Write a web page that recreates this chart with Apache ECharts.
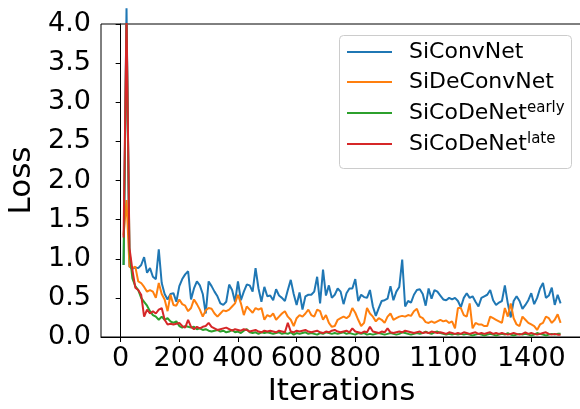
<!DOCTYPE html>
<html>
<head>
<meta charset="utf-8">
<script src="https://cdn.jsdelivr.net/npm/echarts@6/dist/echarts.min.js"></script>
<style>
html,body{margin:0;padding:0;background:#fff;}
#chart{width:580px;height:409px;}
</style>
</head>
<body>
<div id="chart"></div>
<script>
// Iterations: one logged point every 10 iterations, starting at 10
const iterStart = 10;
const iterStep = 10;

const seriesNames = ['SiConvNet', 'SiDeConvNet', 'SiCoDeNet|early', 'SiCoDeNet|late'];
const xTickValues = [0, 200, 400, 600, 800, 1100, 1400];
const yTickValues = [0, 0.5, 1, 1.5, 2, 2.5, 3, 3.5, 4];

const siConvNet = [
0.92,4.2,0.90,0.87,0.89,0.88,0.92,1.02,0.82,0.88,
0.77,0.74,1.12,0.69,0.55,0.48,0.55,0.56,0.45,0.65,
0.74,0.80,0.84,0.48,0.62,0.71,0.66,0.55,0.30,0.71,
0.65,0.58,0.52,0.43,0.41,0.45,0.67,0.60,0.45,0.71,
0.47,0.58,0.67,0.66,0.58,0.88,0.62,0.45,0.64,0.52,
0.53,0.47,0.61,0.53,0.50,0.46,0.60,0.73,0.55,0.41,
0.57,0.35,0.52,0.54,0.54,0.58,0.77,0.43,0.86,0.53,
0.66,0.50,0.54,0.62,0.58,0.42,0.56,0.62,0.62,0.74,
0.46,0.54,0.51,0.50,0.60,0.39,0.27,0.37,0.46,0.47,
0.49,0.65,0.47,0.58,0.64,0.99,0.39,0.46,0.44,0.54,
0.60,0.61,0.55,0.40,0.62,0.49,0.60,0.58,0.53,0.48,
0.47,0.50,0.48,0.50,0.46,0.38,0.50,0.56,0.50,0.52,
0.45,0.39,0.50,0.52,0.54,0.60,0.47,0.41,0.44,0.46,
0.66,0.43,0.25,0.46,0.52,0.46,0.36,0.41,0.47,0.56,
0.42,0.50,0.62,0.69,0.50,0.53,0.63,0.41,0.54,0.43
];

const siDeConvNet = [
1.30,1.75,0.90,0.88,0.90,0.71,0.69,0.64,0.58,0.60,
0.58,0.50,0.69,0.55,0.48,0.33,0.54,0.41,0.40,0.48,
0.42,0.40,0.33,0.37,0.48,0.42,0.35,0.26,0.34,0.37,
0.36,0.30,0.26,0.30,0.34,0.33,0.35,0.39,0.43,0.54,
0.43,0.28,0.39,0.35,0.31,0.37,0.35,0.37,0.22,0.28,
0.26,0.30,0.22,0.26,0.30,0.33,0.26,0.22,0.14,0.24,
0.28,0.26,0.30,0.35,0.28,0.26,0.35,0.33,0.22,0.28,
0.18,0.13,0.14,0.22,0.24,0.26,0.24,0.27,0.37,0.31,
0.22,0.14,0.18,0.37,0.30,0.26,0.20,0.24,0.22,0.18,
0.26,0.30,0.22,0.24,0.26,0.27,0.26,0.28,0.27,0.33,
0.36,0.26,0.24,0.19,0.18,0.20,0.18,0.20,0.22,0.20,
0.21,0.18,0.20,0.11,0.37,0.37,0.28,0.26,0.43,0.11,
0.18,0.16,0.16,0.14,0.14,0.26,0.24,0.22,0.20,0.18,
0.37,0.26,0.43,0.24,0.16,0.14,0.26,0.22,0.18,0.16,
0.14,0.09,0.16,0.18,0.26,0.24,0.18,0.22,0.29,0.18
];

const siCoDeNetEarly = [
0.92,4.05,1.10,0.75,0.65,0.60,0.50,0.45,0.40,0.33,
0.28,0.26,0.22,0.26,0.22,0.24,0.20,0.18,0.20,0.14,
0.12,0.14,0.13,0.12,0.13,0.10,0.11,0.09,0.10,0.08,
0.07,0.08,0.09,0.07,0.08,0.06,0.07,0.09,0.06,0.07,
0.05,0.08,0.10,0.06,0.05,0.06,0.04,0.06,0.05,0.06,
0.05,0.04,0.05,0.06,0.04,0.05,0.04,0.06,0.03,0.05,
0.04,0.05,0.06,0.04,0.05,0.04,0.03,0.05,0.04,0.06,
0.05,0.04,0.05,0.04,0.05,0.06,0.04,0.05,0.04,0.03,
0.05,0.04,0.05,0.03,0.04,0.03,0.04,0.05,0.04,0.03,
0.04,0.05,0.04,0.03,0.04,0.06,0.05,0.04,0.03,0.04,
0.05,0.04,0.05,0.07,0.05,0.04,0.06,0.07,0.05,0.04,
0.03,0.04,0.03,0.04,0.03,0.04,0.03,0.04,0.03,0.02,
0.03,0.04,0.03,0.02,0.03,0.04,0.03,0.02,0.03,0.04,
0.03,0.05,0.03,0.02,0.03,0.04,0.03,0.04,0.03,0.02,
0.03,0.05,0.04,0.03,0.02,0.03,0.04,0.03,0.04,0.04
];

const siCoDeNetLate = [
1.27,4.1,1.14,0.86,0.63,0.60,0.54,0.26,0.35,0.30,
0.33,0.30,0.35,0.37,0.22,0.16,0.17,0.16,0.17,0.18,
0.14,0.12,0.22,0.13,0.10,0.13,0.11,0.13,0.14,0.18,
0.13,0.11,0.09,0.10,0.11,0.12,0.10,0.08,0.10,0.09,
0.08,0.10,0.09,0.07,0.08,0.09,0.07,0.06,0.08,0.07,
0.08,0.07,0.06,0.08,0.07,0.06,0.18,0.07,0.06,0.08,
0.07,0.08,0.09,0.07,0.06,0.07,0.08,0.06,0.05,0.07,
0.06,0.08,0.09,0.07,0.06,0.07,0.08,0.06,0.11,0.07,
0.06,0.05,0.07,0.06,0.13,0.07,0.06,0.05,0.07,0.06,
0.11,0.06,0.05,0.06,0.07,0.06,0.08,0.07,0.06,0.05,
0.06,0.07,0.05,0.06,0.05,0.07,0.06,0.05,0.06,0.05,
0.04,0.06,0.05,0.04,0.05,0.04,0.06,0.05,0.04,0.05,
0.06,0.04,0.05,0.04,0.05,0.06,0.04,0.05,0.04,0.05,
0.04,0.03,0.04,0.05,0.04,0.03,0.04,0.06,0.04,0.05,
0.04,0.03,0.04,0.05,0.06,0.04,0.03,0.04,0.03,0.03
];

const seriesValues = [siConvNet, siDeConvNet, siCoDeNetEarly, siCoDeNetLate];
const colors = ['#1f77b4', '#ff7f0e', '#2ca02c', '#d62728'];
const FONT = 'DejaVu Sans';

function toPairs(vals) {
  return vals.map((v, i) => [iterStart + i * iterStep, v]);
}

const chart = echarts.init(document.getElementById('chart'), null, {renderer: 'canvas'});

const series = seriesNames.map((name, k) => ({
  name: name,
  type: 'line',
  data: toPairs(seriesValues[k]),
  showSymbol: false,
  symbol: 'none',
  clip: k !== 0,
  lineStyle: {color: colors[k], width: 2},
  itemStyle: {color: colors[k]},
  z: 2 + k
}));

chart.setOption({
  animation: false,
  backgroundColor: '#fff',
  grid: {
    left: 101, top: 24, right: -2, bottom: 72,
    outerBoundsMode: 'none',
    containLabel: false,
    show: true, borderColor: '#000', borderWidth: 1, backgroundColor: 'transparent'
  },
  xAxis: {
    type: 'value',
    min: -67, max: 1573,
    name: 'Iterations',
    nameLocation: 'middle',
    nameGap: 31,
    nameTextStyle: {fontFamily: FONT, fontSize: 31, color: '#000'},
    axisLine: {show: true, lineStyle: {color: '#000', width: 1}},
    axisTick: {show: true, inside: false, length: 5, lineStyle: {color: '#000'}, customValues: xTickValues},
    axisLabel: {fontFamily: FONT, fontSize: 27, color: '#000', margin: 8, customValues: xTickValues,
      formatter: v => String(v)},
    splitLine: {show: false}
  },
  yAxis: {
    type: 'value',
    min: 0, max: 4,
    name: 'Loss',
    nameLocation: 'middle',
    nameGap: 58,
    nameTextStyle: {fontFamily: FONT, fontSize: 31, color: '#000'},
    axisLine: {show: true, lineStyle: {color: '#000', width: 1}},
    axisTick: {show: true, inside: false, length: 5, lineStyle: {color: '#000'}, customValues: yTickValues},
    axisLabel: {fontFamily: FONT, fontSize: 27, color: '#000', margin: 10, customValues: yTickValues,
      formatter: v => v.toFixed(1)},
    splitLine: {show: false}
  },
  graphic: [{
    type: 'rect',
    shape: {x: 339.5, y: 35.5, width: 232, height: 133, r: 4},
    style: {fill: 'rgba(255,255,255,0.8)', stroke: '#cccccc', lineWidth: 1},
    z: 10
  }],
  legend: {
    show: true,
    orient: 'vertical',
    left: 347, top: 41,
    padding: 0,
    itemGap: 8,
    itemWidth: 45, itemHeight: 2,
    icon: 'rect',
    z: 20,
    data: seriesNames,
    formatter: function (name) {
      const parts = name.split('|');
      if (parts.length === 2) return '{a|' + parts[0] + '}{b|' + parts[1] + '}';
      return '{a|' + name + '}';
    },
    textStyle: {
      padding: [0, 0, 0, 12],
      color: '#000',
      fontFamily: FONT,
      rich: {
        a: {fontFamily: FONT, fontSize: 22, lineHeight: 24, color: '#000'},
        b: {fontFamily: FONT, fontSize: 15, lineHeight: 24, color: '#000', verticalAlign: 'top'}
      }
    }
  },
  series: series
});
</script>
</body>
</html>
